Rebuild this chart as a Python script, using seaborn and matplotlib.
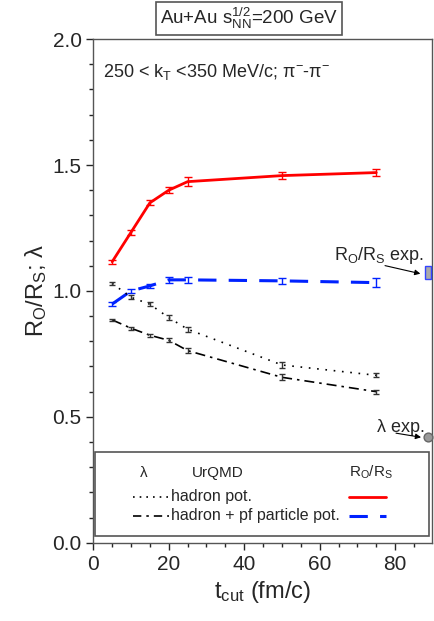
import numpy as np
import pandas as pd
import matplotlib
matplotlib.use('Agg')
import matplotlib.pyplot as plt
from matplotlib.patches import Rectangle
from matplotlib.lines import Line2D
from matplotlib.ticker import MultipleLocator
import seaborn as sns

# t_cut values (fm/c)
t_cut = [5, 10, 15, 20, 25, 50, 75]

# R_O/R_S, hadron pot.
ro_rs_hadron = [1.116, 1.233, 1.350, 1.400, 1.434, 1.458, 1.470]
ro_rs_hadron_err = [0.008, 0.010, 0.010, 0.012, 0.018, 0.015, 0.015]
# R_O/R_S, hadron + pf particle pot.
ro_rs_pf = [0.948, 1.000, 1.020, 1.044, 1.044, 1.040, 1.033]
ro_rs_pf_err = [0.008, 0.008, 0.008, 0.012, 0.012, 0.012, 0.018]
# lambda, hadron pot.
lam_hadron = [1.030, 0.975, 0.947, 0.894, 0.848, 0.706, 0.665]
lam_hadron_err = [0.005, 0.008, 0.008, 0.010, 0.010, 0.012, 0.008]
# lambda, hadron + pf particle pot.
lam_pf = [0.885, 0.852, 0.824, 0.804, 0.763, 0.657, 0.600]
lam_pf_err = [0.005, 0.006, 0.006, 0.008, 0.010, 0.012, 0.008]

# experimental values (shown at the right edge)
ro_rs_exp = [1.048, 1.099]
lam_exp = 0.42

sns.set_style('ticks')
plt.rcParams['font.family'] = ['Liberation Sans', 'DejaVu Sans']
plt.rcParams['mathtext.default'] = 'regular'

fig = plt.figure(figsize=(4.35, 6.21), dpi=100)
ax = fig.add_axes([0.2145, 0.126, 0.778, 0.811])

df = pd.DataFrame({'t': t_cut, 'ro_h': ro_rs_hadron, 'ro_pf': ro_rs_pf,
                   'l_h': lam_hadron, 'l_pf': lam_pf})

sns.lineplot(data=df, x='t', y='ro_h', ax=ax, color='#ff0000', lw=2)
sns.lineplot(data=df, x='t', y='ro_pf', ax=ax, color='#0022ff', lw=2.2)
ax.lines[-1].set_dashes([6, 4])
sns.lineplot(data=df, x='t', y='l_h', ax=ax, color='black', lw=1.2)
ax.lines[-1].set_linestyle((0, (1, 4)))
sns.lineplot(data=df, x='t', y='l_pf', ax=ax, color='black', lw=1.2)
ax.lines[-1].set_linestyle((0, (6, 3, 1.5, 3)))

ax.errorbar(t_cut, ro_rs_hadron, yerr=ro_rs_hadron_err, fmt='none', ecolor='#ff0000', elinewidth=1, capsize=3)
ax.errorbar(t_cut, ro_rs_pf, yerr=ro_rs_pf_err, fmt='none', ecolor='#0022ff', elinewidth=1, capsize=3)
ax.errorbar(t_cut, lam_hadron, yerr=lam_hadron_err, fmt='none', ecolor='#333333', elinewidth=1, capsize=2.5)
ax.errorbar(t_cut, lam_pf, yerr=lam_pf_err, fmt='none', ecolor='#333333', elinewidth=1, capsize=2.5)

# experimental points at right edge
ax.add_patch(Rectangle((87.8, ro_rs_exp[0]), 1.8, ro_rs_exp[1] - ro_rs_exp[0],
                       facecolor='#aaaaaa', edgecolor='#3344ff', lw=1, clip_on=False, zorder=5))
ax.scatter([88.6], [lam_exp], s=40, color='#999999', edgecolor='#666666', clip_on=False, zorder=5)
arrow = dict(arrowstyle='-|>', color='black', lw=0.8, mutation_scale=8)
ax.text(75.6, 1.123, 'R$_O$/R$_S$ exp.', fontsize=13, ha='center', va='baseline')
ax.annotate('', xy=(87.4, 1.066), xytext=(76.6, 1.103), arrowprops=arrow)
ax.text(81.6, 0.44, 'λ exp.', fontsize=13, ha='center', va='baseline')
ax.annotate('', xy=(87.6, 0.417), xytext=(79.5, 0.437), arrowprops=arrow)

ax.set_xlim(0, 89.7)
ax.set_ylim(0, 2.0)
ax.xaxis.set_major_locator(MultipleLocator(20))
ax.xaxis.set_minor_locator(MultipleLocator(5))
ax.yaxis.set_major_locator(MultipleLocator(0.5))
ax.yaxis.set_minor_locator(MultipleLocator(0.1))
ax.tick_params(which='major', length=5, width=1, labelsize=15, direction='out')
ax.tick_params(which='minor', length=3, width=1, direction='out')
for s in ax.spines.values():
    s.set_color('#555555')
    s.set_linewidth(1)

ax.set_xlabel('t$_{cut}$ (fm/c)', fontsize=17)
ax.set_ylabel('R$_O$/R$_S$; λ', fontsize=17, labelpad=2)

ax.text(0.03, 0.955, '250 < k$_T$ <350 MeV/c; π$^{-}$-π$^{-}$', transform=ax.transAxes,
        fontsize=13, va='top', ha='left')

# legend drawn by hand
ax.add_patch(Rectangle((0.006, 0.014), 0.985, 0.166, transform=ax.transAxes,
                       facecolor='white', edgecolor='#555555', lw=1.2, zorder=6))
ax.text(0.148, 0.139, 'λ', transform=ax.transAxes, fontsize=11, ha='center', va='center', zorder=7)
ax.text(0.368, 0.139, 'UrQMD', transform=ax.transAxes, fontsize=11, ha='center', va='center', zorder=7)
ax.text(0.82, 0.139, 'R$_O$/R$_S$', transform=ax.transAxes, fontsize=11, ha='center', va='center', zorder=7)
ax.add_line(Line2D([0.116, 0.223], [0.091, 0.091], transform=ax.transAxes, color='black', lw=1.2,
                   linestyle=(0, (1, 3)), zorder=7))
ax.add_line(Line2D([0.116, 0.223], [0.054, 0.054], transform=ax.transAxes, color='black', lw=1.2,
                   linestyle=(0, (5, 3, 1.5, 3)), zorder=7))
ax.text(0.23, 0.091, 'hadron pot.', transform=ax.transAxes, fontsize=11.5, ha='left', va='center', zorder=7)
ax.text(0.23, 0.054, 'hadron + pf particle pot.', transform=ax.transAxes, fontsize=11.5, ha='left', va='center', zorder=7)
ax.add_line(Line2D([0.757, 0.866], [0.091, 0.091], transform=ax.transAxes, color='#ff0000', lw=2, zorder=7))
ax.add_line(Line2D([0.757, 0.866], [0.054, 0.054], transform=ax.transAxes, color='#0022ff', lw=2.2,
                   dashes=[6, 4], zorder=7))

fig.text(0.572, 0.97, 'Au+Au s$_{NN}^{1/2}$=200 GeV', fontsize=13.5, ha='center', va='center',
         bbox=dict(boxstyle='square,pad=0.2', facecolor='white', edgecolor='#555555', lw=1.2))

fig.savefig('out.png', dpi=100)
